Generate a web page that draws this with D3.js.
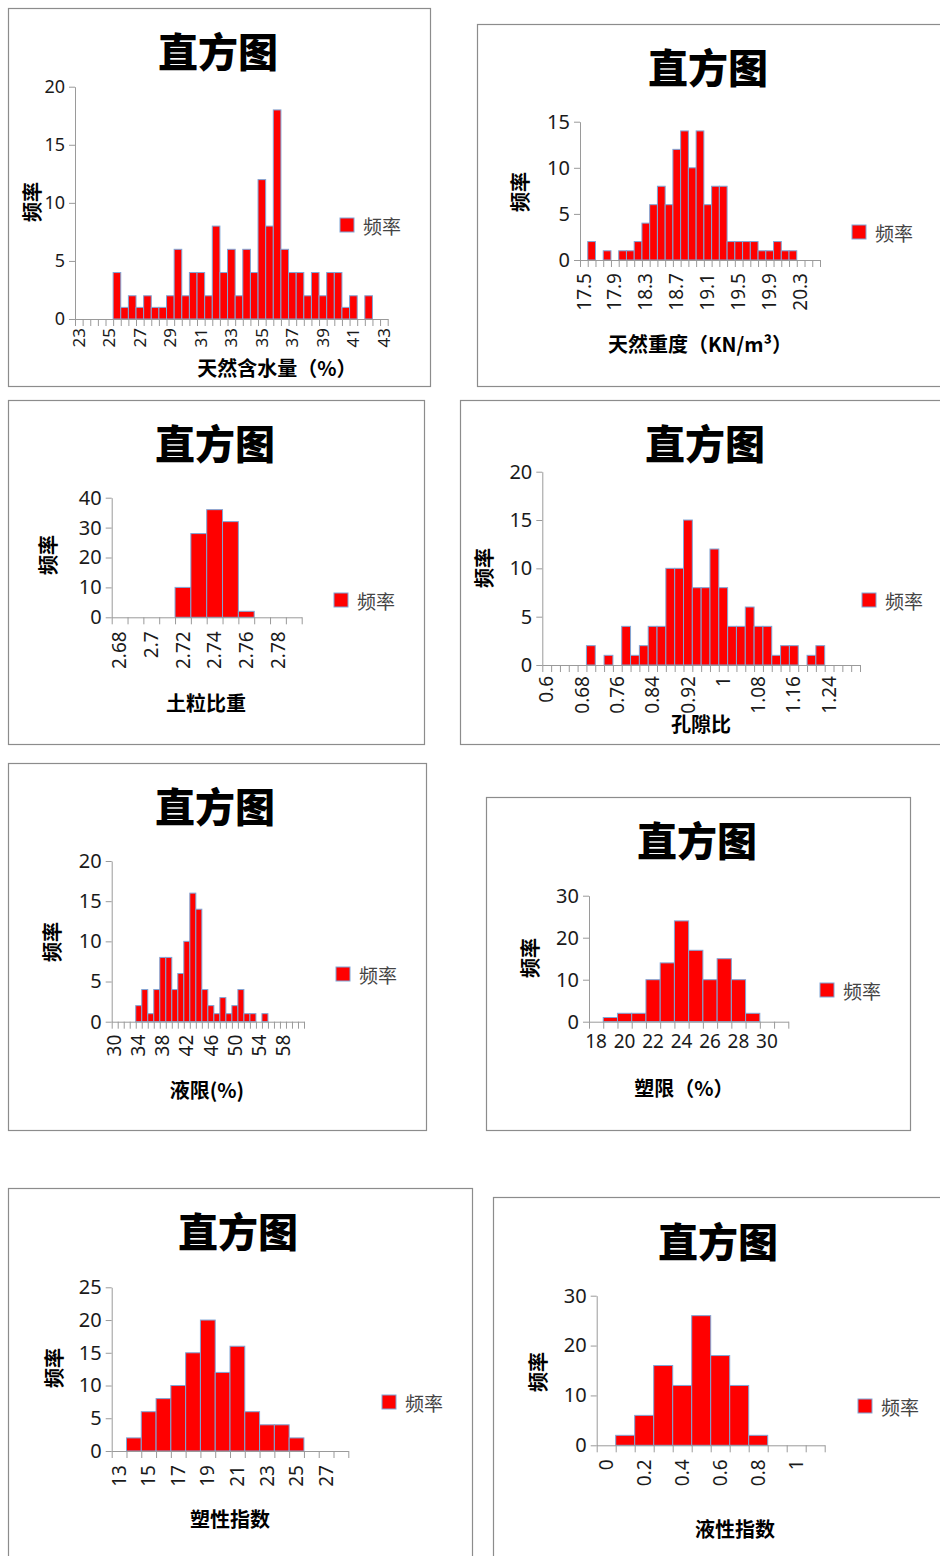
<!DOCTYPE html>
<html>
<head>
<meta charset="utf-8">
<script src="https://cdn.jsdelivr.net/npm/d3@7"></script>
<style>
  body { margin: 0; background: #fff; }
  text { font-family: "Noto Sans", "Noto Sans CJK SC", sans-serif; }
  .cjk { font-family: "Noto Sans CJK SC", sans-serif; }
</style>
</head>
<body>
<svg id="page"></svg>
<script>
// data, one set per histogram (bins, counts, y ticks)
var cat1 = ["23","23.5","24","24.5","25","25.5","26","26.5","27","27.5","28","28.5","29","29.5","30","30.5","31","31.5","32","32.5","33","33.5","34","34.5","35","35.5","36","36.5","37","37.5","38","38.5","39","39.5","40","40.5","41","41.5","42","42.5","43"];
var val1 = [0,0,0,0,0,4,1,2,1,2,1,1,2,6,2,4,4,2,8,4,6,2,6,4,12,8,18,6,4,4,2,4,2,4,4,1,2,0,2,0,0];
var yTicks1 = [0,5,10,15,20];

var cat2 = ["17.5","17.6","17.7","17.8","17.9","18","18.1","18.2","18.3","18.4","18.5","18.6","18.7","18.8","18.9","19","19.1","19.2","19.3","19.4","19.5","19.6","19.7","19.8","19.9","20","20.1","20.2","20.3","20.4","20.5"];
var val2 = [0,2,0,1,0,1,1,2,4,6,8,6,12,14,10,14,6,8,8,2,2,2,2,1,1,2,1,1,0,0,0];
var yTicks2 = [0,5,10,15];

var cat3 = ["2.68","2.69","2.7","2.71","2.72","2.73","2.74","2.75","2.76","2.77","2.78","2.79"];
var val3 = [0,0,0,0,10,28,36,32,2,0,0,0];
var yTicks3 = [0,10,20,30,40];

var cat4 = ["0.6","0.62","0.64","0.66","0.68","0.7","0.72","0.74","0.76","0.78","0.8","0.82","0.84","0.86","0.88","0.9","0.92","0.94","0.96","0.98","1","1.02","1.04","1.06","1.08","1.1","1.12","1.14","1.16","1.18","1.2","1.22","1.24","1.26","1.28","1.3"];
var val4 = [0,0,0,0,0,2,0,1,0,4,1,2,4,4,10,10,15,8,8,12,8,4,4,6,4,4,1,2,2,0,1,2,0,0,0,0];
var yTicks4 = [0,5,10,15,20];

var cat5 = ["30","31","32","33","34","35","36","37","38","39","40","41","42","43","44","45","46","47","48","49","50","51","52","53","54","55","56","57","58","59","60","61"];
var val5 = [0,0,0,0,2,4,1,4,8,8,4,6,10,16,14,4,2,1,3,1,2,4,1,1,0,1,0,0,0,0,0,0];
var yTicks5 = [0,5,10,15,20];

var cat6 = ["18","19","20","21","22","23","24","25","26","27","28","29","30","31"];
var val6 = [0,1,2,2,10,14,24,17,10,15,10,2,0,0];
var yTicks6 = [0,10,20,30];

var cat7 = ["13","14","15","16","17","18","19","20","21","22","23","24","25","26","27","28"];
var val7 = [0,2,6,8,10,15,20,12,16,6,4,4,2,0,0,0];
var yTicks7 = [0,5,10,15,20,25];

var cat8 = ["0","0.1","0.2","0.3","0.4","0.5","0.6","0.7","0.8","0.9","1","1.1"];
var val8 = [0,2,6,16,12,26,18,12,2,0,0,0];
var yTicks8 = [0,10,20,30];

var titleText = "直方图";
var yTitle = "频率";
var legendText = "频率";

// where each chart sits on the page
var layouts = [
    {box: [8, 8, 430, 386], title: [218, 50], x: [75, 387.7], y: [319, 86.7], every: 4, off: 9, fs: 17,
     xt: ["天然含水量（%）", 277, 367], yt: [31, 202], leg: [340, 218]},
    {box: [477, 24, 945, 386], title: [708, 66], x: [580, 820], y: [260, 121.7], every: 4, off: 13, fs: 19,
     xt: ["天然重度（KN/m³）", 700, 343], yt: [519, 192], leg: [852, 225]},
    {box: [8, 400, 424, 744], title: [215, 442], x: [111.7, 301.7], y: [617.3, 497.7], every: 2, off: 14, fs: 19,
     xt: ["土粒比重", 206, 702], yt: [47, 555], leg: [334, 593]},
    {box: [460, 400, 945, 744], title: [705, 442], x: [542.3, 860], y: [665, 471.7], every: 4, off: 11, fs: 19,
     xt: ["孔隙比", 701, 723], yt: [483, 568], leg: [862, 593]},
    {box: [8, 763, 426, 1130], title: [215, 805], x: [111.7, 304], y: [1021.7, 861], every: 4, off: 13, fs: 19,
     xt: ["液限(%)", 207, 1089], yt: [51, 942], leg: [336, 967]},
    {box: [486, 797, 910, 1130], title: [697, 839], x: [589, 788.3], y: [1021.7, 895.7], every: 2, off: 0, fs: 19,
     flat: true, xt: ["塑限（%）", 684, 1087], yt: [529, 958], leg: [820, 983]},
    {box: [8, 1188, 472, 1560], title: [238, 1230], x: [111.7, 348.3], y: [1451, 1287.3], every: 2, off: 14, fs: 19,
     xt: ["塑性指数", 230, 1518], yt: [53, 1368], leg: [382, 1395]},
    {box: [493, 1197, 945, 1560], title: [718, 1240], x: [596.7, 824.7], y: [1445.3, 1295.7], every: 2, off: 14, fs: 19,
     xt: ["液性指数", 735, 1528], yt: [537, 1372], leg: [858, 1399]}
];

var charts = [
    [cat1, val1, yTicks1], [cat2, val2, yTicks2], [cat3, val3, yTicks3], [cat4, val4, yTicks4],
    [cat5, val5, yTicks5], [cat6, val6, yTicks6], [cat7, val7, yTicks7], [cat8, val8, yTicks8]
];

var barFill = '#ff0000';
var barEdge = '#7fa6d6';
var axisColor = '#9a9a9a';

var svg = d3.select('#page')
    .attr('width', 940)
    .attr('height', 1556);

function drawHist(cats, vals, yTicks, lay) {
    var g = svg.append('g');

    // frame
    g.append('rect')
        .attr('x', lay.box[0] + 0.5)
        .attr('y', lay.box[1] + 0.5)
        .attr('width', lay.box[2] - lay.box[0])
        .attr('height', lay.box[3] - lay.box[1])
        .attr('fill', '#fff')
        .attr('stroke', '#8c8c8c')
        .attr('stroke-width', 1.2);

    var xScale = d3.scaleBand()
        .domain(cats)
        .range(lay.x)
        .padding(0);

    // boundary positions for the tick marks
    var edgeScale = d3.scaleLinear()
        .domain([0, cats.length])
        .range(lay.x);

    var yScale = d3.scaleLinear()
        .domain([0, d3.max(yTicks)])
        .range(lay.y);

    // bars
    g.selectAll('rect.bar')
        .data(vals.map(function (v, i) { return {c: cats[i], v: v}; }).filter(function (d) { return d.v > 0; }))
        .enter()
        .append('rect')
        .attr('class', 'bar')
        .attr('x', function (d) { return xScale(d.c); })
        .attr('y', function (d) { return yScale(d.v); })
        .attr('width', xScale.bandwidth())
        .attr('height', function (d) { return lay.y[0] - yScale(d.v); })
        .attr('fill', barFill)
        .attr('stroke', barEdge)
        .attr('stroke-width', 1);

    // y axis
    var yAxis = d3.axisLeft(yScale).tickValues(yTicks).tickSize(6).tickSizeOuter(0).tickPadding(4);
    var ya = g.append('g')
        .attr('transform', `translate(${lay.x[0]},0)`)
        .call(yAxis);
    ya.select('.domain').attr('stroke', axisColor);
    ya.selectAll('line').attr('stroke', axisColor);
    ya.selectAll('text').attr('font-size', lay.fs + 1).attr('fill', '#1a1a1a');

    // x axis tick marks on bin edges
    var tickAxis = d3.axisBottom(edgeScale).tickValues(d3.range(cats.length + 1)).tickFormat('').tickSize(7).tickSizeOuter(0);
    var xa = g.append('g')
        .attr('transform', `translate(0,${lay.y[0]})`)
        .call(tickAxis);
    xa.select('.domain').attr('stroke', axisColor);
    xa.selectAll('line').attr('stroke', axisColor);

    // x labels on bin centres
    var shown = cats.filter(function (c, i) { return i % lay.every === 0; });
    var labAxis = d3.axisBottom(xScale).tickValues(shown).tickSize(0).tickPadding(lay.flat ? 13 : 0);
    var xl = g.append('g')
        .attr('transform', `translate(0,${lay.y[0]})`)
        .call(labAxis);
    xl.select('.domain').remove();
    xl.selectAll('text').attr('font-size', lay.fs).attr('fill', '#1a1a1a');
    if (!lay.flat) {
        xl.selectAll('text')
            .attr('transform', 'rotate(-90)')
            .attr('text-anchor', 'end')
            .attr('x', -lay.off)
            .attr('y', 0)
            .attr('dy', '0.35em');
    }

    // title
    g.append('text')
        .attr('class', 'cjk')
        .attr('x', lay.title[0])
        .attr('y', lay.title[1])
        .attr('text-anchor', 'middle')
        .attr('dominant-baseline', 'central')
        .attr('font-size', 40)
        .attr('font-weight', 900)
        .attr('fill', '#000')
        .text(titleText);

    // axis titles
    g.append('text')
        .attr('class', 'cjk')
        .attr('x', lay.xt[1])
        .attr('y', lay.xt[2])
        .attr('text-anchor', 'middle')
        .attr('dominant-baseline', 'central')
        .attr('font-size', 20)
        .attr('font-weight', 'bold')
        .attr('fill', '#000')
        .text(lay.xt[0]);

    g.append('text')
        .attr('class', 'cjk')
        .attr('transform', `translate(${lay.yt[0]},${lay.yt[1]}) rotate(-90)`)
        .attr('text-anchor', 'middle')
        .attr('dominant-baseline', 'central')
        .attr('font-size', 20)
        .attr('font-weight', 'bold')
        .attr('fill', '#000')
        .text(yTitle);

    // legend
    g.append('rect')
        .attr('x', lay.leg[0])
        .attr('y', lay.leg[1])
        .attr('width', 14)
        .attr('height', 14)
        .attr('fill', barFill)
        .attr('stroke', barEdge)
        .attr('stroke-width', 1);

    g.append('text')
        .attr('class', 'cjk')
        .attr('x', lay.leg[0] + 23)
        .attr('y', lay.leg[1] + 7)
        .attr('dominant-baseline', 'central')
        .attr('font-size', 19)
        .attr('fill', '#444')
        .text(legendText);
}

charts.forEach(function (c, i) {
    drawHist(c[0], c[1], c[2], layouts[i]);
});
</script>
</body>
</html>
